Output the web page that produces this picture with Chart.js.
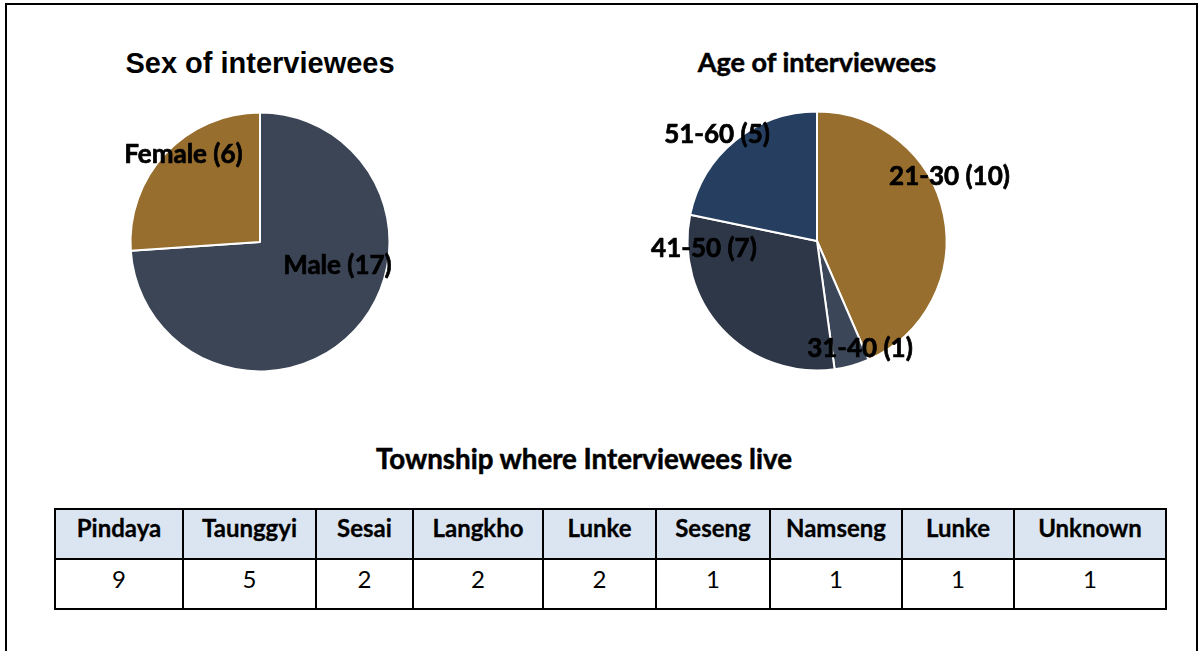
<!DOCTYPE html>
<html>
<head>
<meta charset="utf-8">
<script src="https://cdn.jsdelivr.net/npm/chart.js@4.4.1/dist/chart.umd.min.js"></script>
<style>
  html, body { margin:0; padding:0; background:#fff; width:1204px; height:651px; overflow:hidden; }
  #frame { position:absolute; left:5px; top:3px; width:1193px; height:700px; border:2px solid #000; box-sizing:border-box; }
  .title { position:absolute; white-space:nowrap; color:#000; font-weight:bold; transform:translate(-50%,-50%); }
  #t1 { left:260px; top:63px; font-family:"Liberation Sans", Arial, sans-serif; font-size:29px; }
  #t2 { left:817px; top:61px; font-family:Lato, "Open Sans", sans-serif; font-size:27px; -webkit-text-stroke:0.5px #000; }
  #t3 { left:584px; top:458px; font-family:Lato, "Open Sans", sans-serif; font-size:27.7px; -webkit-text-stroke:0.5px #000; }
  .pie { position:absolute; }
  #w1 { left:60px; top:92px; width:400px; height:300px; }
  #w2 { left:587px; top:91px; width:460px; height:300px; }
  table { position:absolute; left:54px; top:508px; border-collapse:collapse; font-family:Lato, "Open Sans", sans-serif; font-size:24px; color:#000; }
  td { border:2px solid #000; text-align:center; padding:0; }
  tr.h td { background:#DBE5F1; font-weight:bold; height:50px; vertical-align:top; padding-top:3px; box-sizing:border-box; -webkit-text-stroke:0.3px #000; }
  tr.v td { height:50px; vertical-align:top; padding-top:4px; box-sizing:border-box; }
</style>
</head>
<body>
<div id="frame"></div>
<div class="title" id="t1">Sex of interviewees</div>
<div class="title" id="t2">Age of interviewees</div>
<div class="title" id="t3">Township where Interviewees live</div>
<div class="pie" id="w1"><canvas id="c1"></canvas></div>
<div class="pie" id="w2"><canvas id="c2"></canvas></div>
<table id="tbl"></table>
<script>
// ---- data ----
const sexLabels = ["Male", "Female"];
const sexValues = [17, 6];
const ageLabels = ["21-30", "31-40", "41-50", "51-60"];
const ageValues = [10, 1, 7, 5];
const townships = ["Pindaya", "Taunggyi", "Sesai", "Langkho", "Lunke", "Seseng", "Namseng", "Lunke", "Unknown"];
const townshipCounts = [9, 5, 2, 2, 2, 1, 1, 1, 1];

// ---- styles ----
const sexColors = ["#3B4556", "#986E2E"];
const ageColors = ["#986E2E", "#3B4658", "#2E3748", "#263F61"];
// label anchors, as fraction of radius (dx, dy) from pie center
const sexLabelPos = [[0.598, 0.185], [-0.591, -0.672]];
const ageLabelPos = [[1.023, -0.494], [0.332, 0.834], [-0.873, 0.062], [-0.772, -0.819]];
const colWidths = [128, 133, 97, 130, 113, 114, 132, 112, 152];

const labelPlugin = {
  id: 'sliceLabels',
  afterDatasetsDraw(chart, args, opts) {
    const ctx = chart.ctx;
    const meta = chart.getDatasetMeta(0);
    const ds = chart.data.datasets[0];
    ctx.save();
    ctx.font = opts.font;
    ctx.fillStyle = '#000';
    ctx.strokeStyle = '#000';
    ctx.lineWidth = 0.7;
    ctx.lineJoin = 'round';
    ctx.textAlign = 'center';
    ctx.textBaseline = 'middle';
    meta.data.forEach((arc, i) => {
      const r = arc.outerRadius;
      const p = opts.pos[i];
      const txt = chart.data.labels[i] + ' (' + ds.data[i] + ')';
      const x = arc.x + p[0] * r, y = arc.y + p[1] * r;
      ctx.fillText(txt, x, y);
      ctx.strokeText(txt, x, y);
    });
    ctx.restore();
  }
};

function makePie(id, labels, values, colors, pos, font) {
  new Chart(document.getElementById(id), {
    type: 'pie',
    data: { labels: labels, datasets: [{ data: values, backgroundColor: colors, borderColor: '#fff', borderWidth: 2, hoverOffset: 0 }] },
    options: {
      responsive: true, maintainAspectRatio: false, animation: false,
      radius: 129.5,
      layout: { padding: 0 },
      plugins: { legend: { display: false }, tooltip: { enabled: false }, title: { display: false },
                 sliceLabels: { pos: pos, font: font } }
    },
    plugins: [labelPlugin]
  });
}
makePie('c1', sexLabels, sexValues, sexColors, sexLabelPos, 'bold 26px Lato, "Open Sans", sans-serif');
makePie('c2', ageLabels, ageValues, ageColors, ageLabelPos, 'bold 26px Lato, "Open Sans", sans-serif');

// ---- table ----
const tbl = document.getElementById('tbl');
const hr = document.createElement('tr'); hr.className = 'h';
townships.forEach((t, i) => { const td = document.createElement('td'); td.textContent = t; td.style.width = colWidths[i] + 'px'; hr.appendChild(td); });
const vr = document.createElement('tr'); vr.className = 'v';
townshipCounts.forEach(v => { const td = document.createElement('td'); td.textContent = v; vr.appendChild(td); });
tbl.appendChild(hr); tbl.appendChild(vr);
</script>
</body>
</html>
